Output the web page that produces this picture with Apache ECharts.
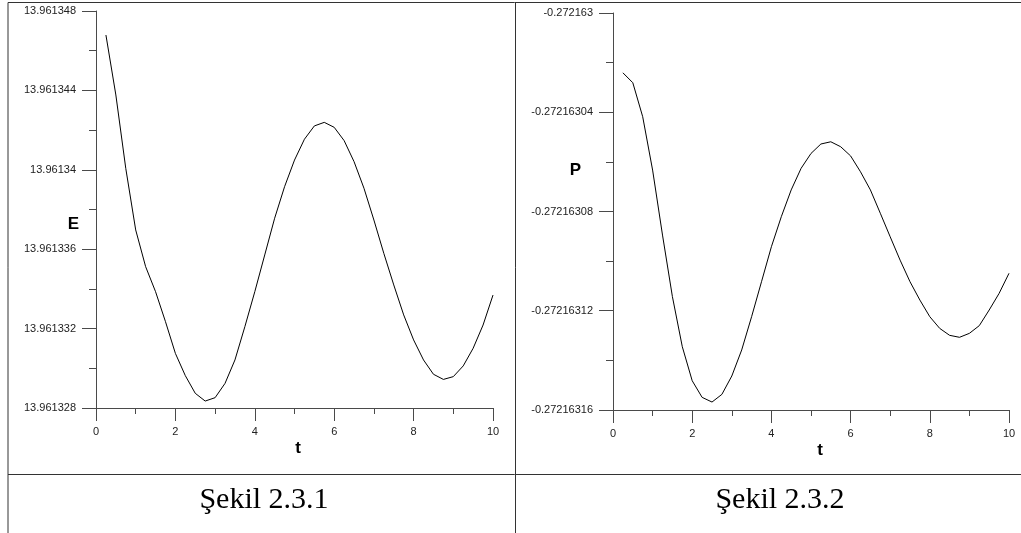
<!DOCTYPE html>
<html>
<head>
<meta charset="utf-8">
<script src="https://cdn.jsdelivr.net/npm/echarts@6/dist/echarts.min.js"></script>
<style>
  html, body { margin: 0; padding: 0; background: #fff; }
  #chart { width: 1021px; height: 533px; }
</style>
</head>
<body>
<div id="chart"></div>
<script>
// Time samples shared by both panels
const timeValues = [0.25, 0.5, 0.75, 1.0, 1.25, 1.5, 1.75, 2.0, 2.25, 2.5,
  2.75, 3.0, 3.25, 3.5, 3.75, 4.0, 4.25, 4.5, 4.75, 5.0,
  5.25, 5.5, 5.75, 6.0, 6.25, 6.5, 6.75, 7.0, 7.25, 7.5,
  7.75, 8.0, 8.25, 8.5, 8.75, 9.0, 9.25, 9.5, 9.75, 10.0];

// Energy E(t)
const energyValues = [13.96134679, 13.96134377, 13.96134007, 13.96133697, 13.96133512,
  13.96133386, 13.96133235, 13.96133075, 13.96132963, 13.96132874,
  13.96132835, 13.96132852, 13.96132924, 13.96133042, 13.9613321,
  13.96133386, 13.96133571, 13.96133756, 13.96133915, 13.96134049,
  13.96134154, 13.96134221, 13.96134239, 13.96134214, 13.96134147,
  13.96134041, 13.96133907, 13.96133747, 13.96133579, 13.9613342,
  13.96133269, 13.96133143, 13.96133042, 13.9613297, 13.96132944,
  13.96132958, 13.96133012, 13.96133101, 13.96133218, 13.96133369];

// Momentum P(t)
const momentumValues = [-0.2721630241, -0.2721630281, -0.2721630418, -0.2721630633, -0.2721630895,
  -0.2721631143, -0.2721631345, -0.2721631482, -0.2721631549, -0.2721631568,
  -0.2721631537, -0.2721631463, -0.2721631358, -0.2721631224, -0.2721631083,
  -0.2721630942, -0.2721630821, -0.2721630713, -0.2721630626, -0.2721630566,
  -0.2721630528, -0.2721630519, -0.2721630539, -0.2721630576, -0.272163064,
  -0.2721630713, -0.2721630807, -0.2721630902, -0.2721630996, -0.2721631083,
  -0.2721631157, -0.2721631224, -0.2721631271, -0.2721631299, -0.2721631307,
  -0.2721631291, -0.272163126, -0.2721631197, -0.272163113, -0.2721631049];

// Axis ranges and labels
const tRange = { min: 0, max: 10, step: 2 };
const energyRange = { min: 13.961328, max: 13.961348, step: 0.000004 };
const momentumRange = { min: -0.27216316, max: -0.272163, step: 0.00000004 };
const axisTitles = { t: 't', e: 'E', p: 'P' };
const captions = ['Şekil 2.3.1', 'Şekil 2.3.2'];

const sans = 'Liberation Sans, Arial, sans-serif';
const axisColor = '#4a4a4a';

function trimNumber(digits) {
  return v => String(parseFloat(v.toFixed(digits)));
}

function xAxisCfg(gridIndex, namePad) {
  return {
    type: 'value', gridIndex,
    min: tRange.min, max: tRange.max, interval: tRange.step,
    name: axisTitles.t, nameLocation: 'middle', nameGap: 32, nameMoveOverlap: false,
    nameTextStyle: { fontFamily: sans, fontSize: 17, fontWeight: 'bold', color: '#000', padding: namePad },
    axisLine: { onZero: false, lineStyle: { color: axisColor, width: 1 } },
    axisTick: { show: true, length: 13, lineStyle: { color: axisColor } },
    minorTick: { show: true, splitNumber: 2, length: 6, lineStyle: { color: axisColor } },
    axisLabel: { margin: 18, fontFamily: sans, fontSize: 11, color: '#222', showMinLabel: true, showMaxLabel: true },
    splitLine: { show: false }, minorSplitLine: { show: false }
  };
}

function yAxisCfg(gridIndex, range, digits) {
  return {
    type: 'value', gridIndex,
    min: range.min, max: range.max, interval: range.step,
    axisLine: { onZero: false, lineStyle: { color: axisColor, width: 1 } },
    axisTick: { show: true, length: 14, lineStyle: { color: axisColor } },
    minorTick: { show: true, splitNumber: 2, length: 7, lineStyle: { color: axisColor } },
    axisLabel: { margin: 20, fontFamily: sans, fontSize: 11, color: '#222', formatter: trimNumber(digits), showMinLabel: true, showMaxLabel: true },
    splitLine: { show: false }, minorSplitLine: { show: false }
  };
}

// vertical-axis titles sit beside the tick labels, set apart from the axis middle
function yTitle(text, right, centerY) {
  return {
    type: 'text', x: right, y: centerY,
    style: { text, fontFamily: sans, fontSize: 17, fontWeight: 'bold', fill: '#000', align: 'right', verticalAlign: 'middle' }
  };
}

const lineColor = '#333';
const captionStyle = { fontFamily: 'Liberation Serif, serif', fontSize: 30, fill: '#000', align: 'center', verticalAlign: 'middle' };

const option = {
  animation: false,
  backgroundColor: '#fff',
  grid: [
    { left: 96, right: 528, top: 11, bottom: 125 },
    { left: 613, right: 12, top: 13, bottom: 123 }
  ],
  xAxis: [xAxisCfg(0, [0, 0, 0, 7]), xAxisCfg(1, [0, 0, 0, 18])],
  yAxis: [
    yAxisCfg(0, energyRange, 6),
    yAxisCfg(1, momentumRange, 8)
  ],
  series: [
    {
      type: 'line', xAxisIndex: 0, yAxisIndex: 0, showSymbol: false,
      lineStyle: { color: '#000', width: 1 },
      data: timeValues.map((t, i) => [t, energyValues[i]])
    },
    {
      type: 'line', xAxisIndex: 1, yAxisIndex: 1, showSymbol: false,
      lineStyle: { color: '#000', width: 1 },
      data: timeValues.map((t, i) => [t, momentumValues[i]])
    }
  ],
  graphic: [
    // table frame
    { type: 'line', shape: { x1: 8, y1: 2.5, x2: 1021, y2: 2.5 }, style: { stroke: lineColor, lineWidth: 1 } },
    { type: 'line', shape: { x1: 8, y1: 2.5, x2: 8, y2: 533 }, style: { stroke: lineColor, lineWidth: 1 } },
    { type: 'line', shape: { x1: 515.5, y1: 2.5, x2: 515.5, y2: 533 }, style: { stroke: lineColor, lineWidth: 1 } },
    { type: 'line', shape: { x1: 8, y1: 474.5, x2: 1021, y2: 474.5 }, style: { stroke: lineColor, lineWidth: 1 } },
    // axis titles
    yTitle(axisTitles.e, 79, 224),
    yTitle(axisTitles.p, 581, 170),
    // captions
    { type: 'text', x: 264, y: 500, style: Object.assign({ text: captions[0] }, captionStyle) },
    { type: 'text', x: 780, y: 500, style: Object.assign({ text: captions[1] }, captionStyle) }
  ]
};

const chart = echarts.init(document.getElementById('chart'), null, { renderer: 'canvas' });
chart.setOption(option);
</script>
</body>
</html>
